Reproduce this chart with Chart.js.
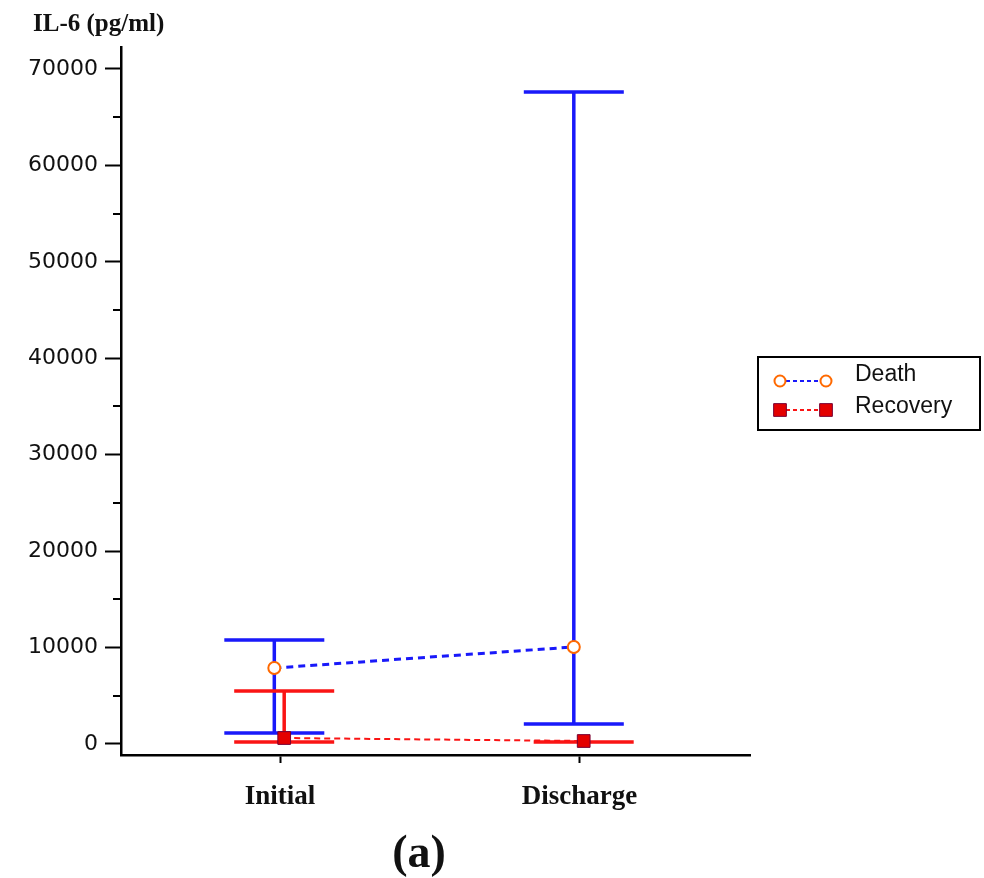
<!DOCTYPE html>
<html><head><meta charset="utf-8">
<script src="https://cdn.jsdelivr.net/npm/chart.js@4"></script>
<style>html,body{margin:0;padding:0;background:#fff}#wrap{width:984px;height:878px;position:relative}</style>
</head><body><div id="wrap"><canvas id="c"></canvas></div>
<script>
// ---- data ----
const categories = ['Initial', 'Discharge'];
const categoryX = [1, 2];
const seriesNames = ['Death', 'Recovery'];
const deathMean = [7880, 10060];
const deathLow = [1140, 2070];
const deathHigh = [10790, 67610];
const recoveryMean = [620, 310];
const recoveryLow = [200, 200];
const recoveryHigh = [5500, 200];
const yTicks = [0, 10000, 20000, 30000, 40000, 50000, 60000, 70000];
const yMinorTicks = [5000, 15000, 25000, 35000, 45000, 55000, 65000];
const yTitle = 'IL-6 (pg/ml)';
const panelLabel = '(a)';

// ---- style ----
const BLUE = 'rgb(25,25,250)';
const RED = 'rgb(250,20,20)';
const ORANGE = 'rgb(255,105,0)';
const DEATH_DX = -0.019, REC_DX = 0.014;
const CAP_HALF = 50;

const pts = (means, dx) => means.map((m, i) => ({x: categoryX[i] + dx, y: m}));

const datasets = [
  {label: seriesNames[0], data: pts(deathMean, DEATH_DX), errLow: deathLow, errHigh: deathHigh,
   errColor: BLUE, showLine: true, borderColor: BLUE, borderWidth: 3, borderDash: [7, 5],
   pointStyle: 'circle', pointRadius: 6, pointBackgroundColor: '#fff', pointBorderColor: ORANGE, pointBorderWidth: 2},
  {label: seriesNames[1], data: pts(recoveryMean, REC_DX), errLow: recoveryLow, errHigh: recoveryHigh,
   errColor: RED, showLine: true, borderColor: RED, borderWidth: 2, borderDash: [6, 4],
   pointStyle: 'rect', pointRadius: 9, pointBackgroundColor: 'rgb(228,0,0)', pointBorderColor: 'rgb(120,0,50)', pointBorderWidth: 1}
];

const errorBars = {
  id: 'errorBars',
  beforeDatasetsDraw(chart) {
    const {ctx, scales: {x, y}} = chart;
    chart.data.datasets.forEach(ds => {
      ds.data.forEach((p, i) => {
        const px = x.getPixelForValue(p.x);
        const lo = y.getPixelForValue(ds.errLow[i]);
        const hi = y.getPixelForValue(ds.errHigh[i]);
        ctx.save();
        ctx.strokeStyle = ds.errColor;
        ctx.lineWidth = 3.5;
        ctx.beginPath();
        ctx.moveTo(px, lo); ctx.lineTo(px, hi);
        ctx.moveTo(px - CAP_HALF, lo); ctx.lineTo(px + CAP_HALF, lo);
        ctx.moveTo(px - CAP_HALF, hi); ctx.lineTo(px + CAP_HALF, hi);
        ctx.stroke();
        ctx.restore();
      });
    });
  }
};

function drawMarker(ctx, ds, x, y) {
  ctx.save();
  ctx.fillStyle = ds.pointBackgroundColor;
  ctx.strokeStyle = ds.pointBorderColor;
  ctx.lineWidth = ds.pointBorderWidth;
  ctx.beginPath();
  if (ds.pointStyle === 'circle') {
    ctx.arc(x, y, ds.pointRadius - 0.5, 0, Math.PI * 2);
  } else {
    const s = ds.pointRadius * Math.SQRT1_2;
    ctx.rect(x - s, y - s, 2 * s, 2 * s);
  }
  ctx.fill(); ctx.stroke();
  ctx.restore();
}

const extras = {
  id: 'extras',
  afterDraw(chart) {
    const {ctx, scales: {y}} = chart;
    const left = chart.chartArea.left;
    // minor ticks
    ctx.save();
    ctx.strokeStyle = '#000'; ctx.lineWidth = 2;
    ctx.beginPath();
    yMinorTicks.forEach(v => {
      const py = Math.round(y.getPixelForValue(v));
      ctx.moveTo(left - 8, py); ctx.lineTo(left, py);
    });
    ctx.stroke();
    // axis title
    ctx.fillStyle = '#111';
    ctx.font = 'bold 25px "Liberation Serif"';
    ctx.textBaseline = 'alphabetic'; ctx.textAlign = 'left';
    ctx.fillText(yTitle, 33, 31);
    // panel label
    ctx.font = 'bold 46px "Liberation Serif"';
    ctx.textAlign = 'center';
    ctx.fillText(panelLabel, 419, 867);
    // legend
    ctx.lineWidth = 2; ctx.strokeStyle = '#000';
    ctx.strokeRect(758, 357, 222, 73);
    const rows = [{ds: chart.data.datasets[0], my: 381, ty: 375}, {ds: chart.data.datasets[1], my: 410, ty: 407}];
    rows.forEach(r => {
      ctx.save();
      ctx.strokeStyle = r.ds.borderColor; ctx.lineWidth = 2;
      ctx.setLineDash([4, 3]);
      ctx.beginPath(); ctx.moveTo(786, r.my); ctx.lineTo(820, r.my); ctx.stroke();
      ctx.restore();
      drawMarker(ctx, r.ds, 780, r.my);
      drawMarker(ctx, r.ds, 826, r.my);
      ctx.fillStyle = '#111';
      ctx.font = '23px "Liberation Sans"';
      ctx.textAlign = 'left'; ctx.textBaseline = 'middle';
      ctx.fillText(r.ds.label, 855, r.ty);
    });
    ctx.restore();
  }
};

new Chart(document.getElementById('c'), {
  type: 'scatter',
  data: {datasets},
  options: {
    responsive: true, maintainAspectRatio: false, animation: false, devicePixelRatio: 1,
    layout: {padding: {left: 0, top: 47, right: 234, bottom: 63}},
    plugins: {legend: {display: false}, tooltip: {enabled: false}},
    scales: {
      x: {
        type: 'linear', min: 0.4691, max: 2.5693,
        afterBuildTicks: s => { s.ticks = categoryX.map(v => ({value: v})); },
        afterFit: s => { s.height = 60; },
        ticks: {callback: v => { const i = categoryX.indexOf(v); return i >= 0 ? categories[i] : ''; },
                font: {family: 'Liberation Serif', weight: 'bold', size: 27}, color: '#111', padding: 18,
                maxRotation: 0, autoSkip: false},
        grid: {drawOnChartArea: false, drawTicks: true, tickLength: 8, tickWidth: 2, tickColor: '#000'},
        border: {display: true, color: '#000', width: 2.5}
      },
      y: {
        type: 'linear', min: -1141, max: 72281,
        afterBuildTicks: s => { s.ticks = yTicks.map(v => ({value: v})); },
        afterFit: s => { s.width = 121; },
        ticks: {callback: v => String(v), font: {family: 'DejaVu Sans', size: 22}, color: '#111', padding: 7},
        grid: {drawOnChartArea: false, drawTicks: true, tickLength: 16, tickWidth: 2, tickColor: '#000'},
        border: {display: true, color: '#000', width: 2.5}
      }
    }
  },
  plugins: [errorBars, extras]
});
</script>
</body></html>
